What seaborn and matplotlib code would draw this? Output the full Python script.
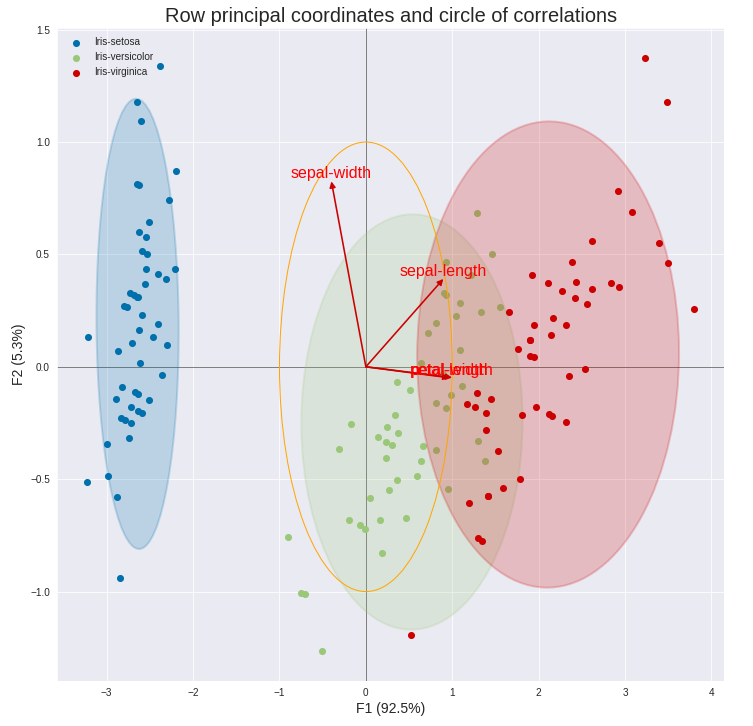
import numpy as np
import pandas as pd
import matplotlib
matplotlib.use('Agg')
import matplotlib.pyplot as plt
import matplotlib.patches as mpatches
import seaborn as sns

# row principal coordinates (F1, F2) for each species
setosa_f1 = [-2.684, -2.714, -2.889, -2.745, -2.729, -2.281, -2.821, -2.626, -2.886, -2.673,
             -2.507, -2.613, -2.786, -3.224, -2.645, -2.386, -2.624, -2.648, -2.200, -2.588,
             -2.310, -2.544, -3.216, -2.303, -2.356, -2.507, -2.469, -2.562, -2.640, -2.632,
             -2.587, -2.410, -2.649, -2.599, -2.637, -2.866, -2.625, -2.801, -2.981, -2.590,
             -2.770, -2.849, -2.997, -2.406, -2.209, -2.714, -2.538, -2.839, -2.543, -2.703]
setosa_f2 = [0.319, -0.177, -0.145, -0.318, 0.327, 0.741, -0.089, 0.163, -0.578, -0.114,
             0.645, 0.015, -0.235, -0.511, 1.179, 1.338, 0.811, 0.312, 0.873, 0.514,
             0.391, 0.433, 0.133, 0.099, -0.037, -0.146, 0.131, 0.368, 0.312, -0.197,
             -0.204, 0.411, 0.813, 1.093, -0.121, 0.069, 0.599, 0.269, -0.488, 0.229,
             0.264, -0.941, -0.342, 0.189, 0.437, -0.250, 0.504, -0.228, 0.579, 0.108]
versicolor_f1 = [1.285, 0.932, 1.464, 0.183, 1.088, 0.642, 1.095, -0.749, 1.044, -0.009,
                 -0.508, 0.512, 0.265, 0.985, -0.174, 0.928, 0.660, 0.236, 0.945, 0.045,
                 1.116, 0.358, 1.298, 0.922, 0.715, 0.900, 1.332, 1.558, 0.813, -0.306,
                 -0.068, -0.190, 0.136, 1.380, 0.588, 0.807, 1.221, 0.815, 0.246, 0.166,
                 0.465, 0.891, 0.231, -0.705, 0.357, 0.332, 0.376, 0.643, -0.906, 0.299]
versicolor_f2 = [0.685, 0.318, 0.504, -0.828, 0.075, -0.418, 0.283, -1.005, 0.228, -0.723,
                 -1.266, -0.104, -0.550, -0.125, -0.255, 0.467, -0.353, -0.334, -0.543, -0.584,
                 -0.085, -0.069, -0.328, -0.183, 0.149, 0.329, 0.244, 0.267, -0.163, -0.368,
                 -0.705, -0.680, -0.314, -0.421, -0.484, 0.194, 0.408, -0.372, -0.269, -0.682,
                 -0.671, -0.034, -0.404, -1.012, -0.505, -0.213, -0.293, 0.018, -0.756, -0.349]
virginica_f1 = [2.531, 1.415, 2.617, 1.972, 2.350, 3.397, 0.521, 2.933, 2.321, 2.917,
                1.662, 1.803, 2.166, 1.346, 1.586, 1.904, 1.950, 3.487, 3.796, 1.301,
                2.428, 1.199, 3.500, 1.389, 2.275, 2.614, 1.259, 1.291, 2.124, 2.388,
                2.842, 3.231, 2.159, 1.444, 1.781, 3.076, 2.144, 1.905, 1.169, 2.108,
                2.314, 1.922, 1.415, 2.563, 2.419, 1.944, 1.527, 1.764, 1.901, 1.390]
virginica_f2 = [-0.010, -0.575, 0.344, -0.180, -0.040, 0.551, -1.193, 0.356, -0.244, 0.783,
                0.242, -0.216, 0.216, -0.777, -0.540, 0.119, 0.042, 1.176, 0.257, -0.761,
                0.378, -0.606, 0.461, -0.204, 0.335, 0.561, -0.180, -0.117, -0.210, 0.465,
                0.375, 1.374, -0.217, -0.143, -0.500, 0.688, 0.140, 0.049, -0.165, 0.372,
                0.184, 0.409, -0.575, 0.278, 0.305, 0.188, -0.375, 0.079, 0.117, -0.283]

species = ['Iris-setosa', 'Iris-versicolor', 'Iris-virginica']
species_colors = ['#0070AC', '#9BC778', '#CC0000']

# correlations of the variables with F1 / F2
variables = ['sepal-length', 'sepal-width', 'petal-length', 'petal-width']
corr_f1 = [0.897, -0.399, 0.998, 0.966]
corr_f2 = [0.391, 0.825, -0.048, -0.049]

sns.set_style('darkgrid')
plt.rcParams['font.family'] = ['Liberation Sans', 'DejaVu Sans']

df = pd.concat([
    pd.DataFrame({'F1': setosa_f1, 'F2': setosa_f2, 'species': species[0]}),
    pd.DataFrame({'F1': versicolor_f1, 'F2': versicolor_f2, 'species': species[1]}),
    pd.DataFrame({'F1': virginica_f1, 'F2': virginica_f2, 'species': species[2]}),
], ignore_index=True)

fig = plt.figure(figsize=(753 / 72, 726 / 72), dpi=72)
ax = fig.add_axes([0.0757, 0.062, 0.886, 0.899])

ax.axhline(0, color='gray', lw=1, zorder=1)
ax.axvline(0, color='gray', lw=1, zorder=1)

# points then confidence ellipse, group by group
for name, color in zip(species, species_colors):
    sub = df[df['species'] == name]
    sns.scatterplot(data=sub, x='F1', y='F2', color=color, s=50, linewidth=0,
                    label=name, ax=ax, zorder=2)
    cov = np.cov(np.vstack((sub['F1'], sub['F2'])))
    U, s, V = np.linalg.svd(cov, full_matrices=False)
    chi = np.sqrt(4.61)
    width = np.sqrt(cov[0][0]) * chi * 2
    height = np.sqrt(cov[1][1]) * chi * 2
    angle = np.arctan(V.T[0][1] / V.T[0][0])
    ax.add_patch(mpatches.Ellipse((sub['F1'].mean(), sub['F2'].mean()), width, height,
                                  angle=angle, facecolor=color, edgecolor=color,
                                  alpha=0.2, linewidth=2, zorder=2))

# circle of correlations
ax.add_patch(mpatches.Ellipse((0, 0), 2, 2, fill=False, edgecolor='orange', lw=1, zorder=3))

for var, x, y in zip(variables, corr_f1, corr_f2):
    ax.annotate('', xy=(x, y), xytext=(0, 0),
                arrowprops=dict(arrowstyle='-|>', color='#CC0000', lw=1.6,
                                mutation_scale=12, shrinkA=0, shrinkB=0), zorder=4)
    ax.text(x, y, var, color='red', fontsize=16, ha='center', va='bottom', zorder=5)

ax.autoscale_view()
ax.set_title('Row principal coordinates and circle of correlations', fontsize=20)
ax.set_xlabel('F1 (92.5%)', fontsize=14)
ax.set_ylabel('F2 (5.3%)', fontsize=14)
ax.tick_params(labelsize=10)
ax.legend(loc='upper left', frameon=False, fontsize=10)

fig.savefig('out.png', dpi=72)
